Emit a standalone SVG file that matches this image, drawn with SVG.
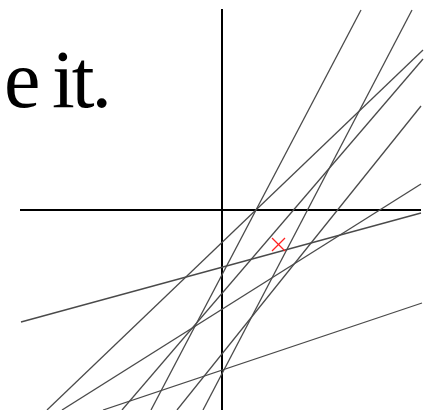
<svg xmlns="http://www.w3.org/2000/svg" width="429" height="410" viewBox="0 0 429 410">
<style>
.ln{stroke:#4a4a4a;stroke-width:1.3;fill:none}
.ax{stroke:#000;stroke-width:2;fill:none}
.mk{stroke:#ff2020;stroke-width:1.3;fill:none}
.tx{font-family:"Liberation Serif","Times New Roman",serif;font-size:82px;fill:#000;letter-spacing:-3px;word-spacing:-3px}
</style>
<rect width="429" height="410" fill="#fff"/>
<text class="tx" x="4" y="107">e it.</text>
<g id="axes">
<line class="ax" x1="222" y1="9" x2="222" y2="410"/>
<line class="ax" x1="20" y1="210" x2="421" y2="210"/>
</g>
<g id="lines">
<line class="ln" x1="361" y1="10" x2="151" y2="410"/>
<line class="ln" x1="412" y1="10" x2="203" y2="410"/>
<line class="ln" x1="423" y1="50" x2="47" y2="410"/>
<line class="ln" x1="423" y1="59" x2="122" y2="410"/>
<line class="ln" x1="421" y1="106" x2="177" y2="410"/>
<line class="ln" x1="421" y1="184" x2="62" y2="410"/>
<line class="ln" x1="21" y1="322" x2="421" y2="213"/>
<line class="ln" x1="103" y1="410" x2="422" y2="303"/>
</g>
<g id="marker">
<line class="mk" x1="272" y1="238" x2="285" y2="251"/>
<line class="mk" x1="285" y1="238" x2="272" y2="251"/>
</g>
</svg>
